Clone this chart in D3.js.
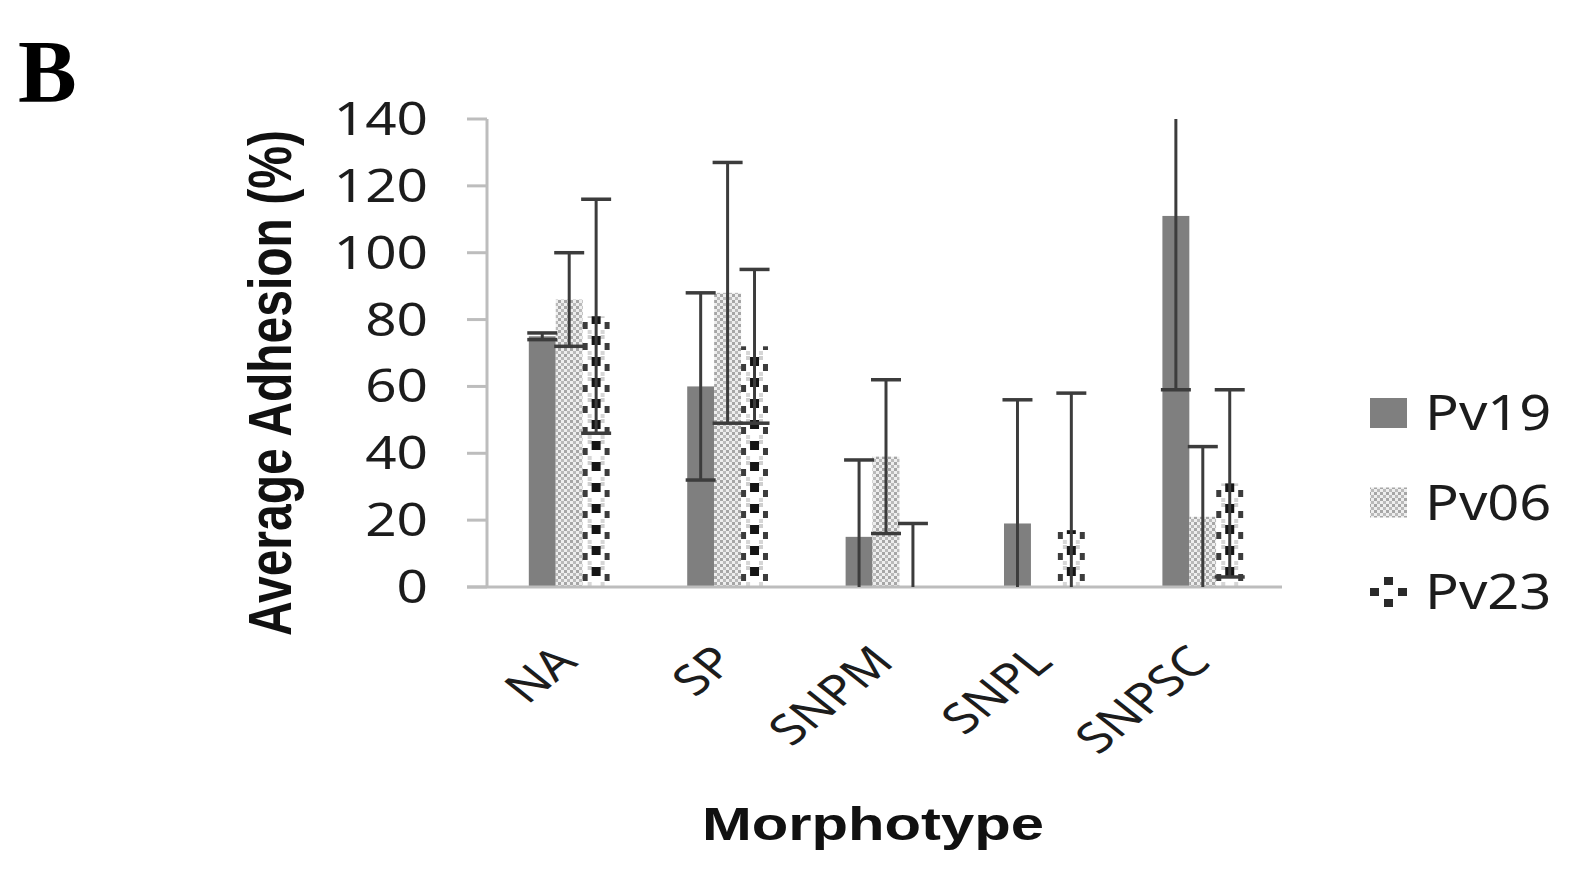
<!DOCTYPE html>
<html>
<head>
<meta charset="utf-8">
<script src="https://cdn.jsdelivr.net/npm/d3@7"></script>
<style>
  body { margin: 0; background: #fff; }
  svg { display: block; }
</style>
</head>
<body>
<div id="chart"></div>
<script>
// chart values
var categories = ["NA", "SP", "SNPM", "SNPL", "SNPSC"];
var seriesNames = ["Pv19", "Pv06", "Pv23"];
var pv19 = [75, 60, 15, 19, 111];
var pv06 = [86, 88, 39, 0, 21];
var pv23 = [81, 72, 0, 17, 31];
var pv19Err = [1, 28, 23, 37, 52];
var pv06Err = [14, 39, 23, 0, 21];
var pv23Err = [35, 23, 19, 41, 28];
var yTicks = [0, 20, 40, 60, 80, 100, 120, 140];

var width = 1582;
var height = 877;
var axisColor = "#bdbdbd";
var errColor = "#3c3c3c";
var fontFam = "'Noto Sans', 'Open Sans', sans-serif";

var svg = d3.select("#chart").append("svg")
	.attr("width", width)
	.attr("height", height);

var defs = svg.append("defs");

var y = d3.scaleLinear()
	.domain([0, 140])
	.range([587, 119]);

var x0 = d3.scaleBand()
	.domain(categories)
	.range([490, 1282]);

var x1 = d3.scaleBand()
	.domain(seriesNames)
	.range([x0.bandwidth() * 0.245, x0.bandwidth() * 0.755]);

// light speckle for Pv06
var p06 = defs.append("pattern")
	.attr("id", "pv06")
	.attr("patternUnits", "userSpaceOnUse")
	.attr("width", 6)
	.attr("height", 6);
p06.append("rect").attr("width", 6).attr("height", 6).attr("fill", "#eeeeee");
p06.append("rect").attr("x", 0).attr("y", 0).attr("width", 3).attr("height", 3).attr("fill", "#a6a6a6");
p06.append("rect").attr("x", 3).attr("y", 3).attr("width", 3).attr("height", 3).attr("fill", "#bababa");

// blocky pattern for Pv23, one per bar so it lines up with the bar edges
function makePv23Pattern(id, px, py, w)
{
	var pat = defs.append("pattern")
		.attr("id", id)
		.attr("patternUnits", "userSpaceOnUse")
		.attr("x", px)
		.attr("y", py)
		.attr("width", w)
		.attr("height", 21);
	pat.append("rect").attr("width", w).attr("height", 21).attr("fill", "#ffffff");
	pat.append("rect").attr("x", 5).attr("y", 0).attr("width", 4).attr("height", 4).attr("fill", "#cfcfcf");
	pat.append("rect").attr("x", w - 9).attr("y", 0).attr("width", 4).attr("height", 4).attr("fill", "#cfcfcf");
	pat.append("rect").attr("x", w / 2 - 4.5).attr("y", 1).attr("width", 9).attr("height", 9).attr("fill", "#151515");
	pat.append("rect").attr("x", 0).attr("y", 8).attr("width", 5).attr("height", 7).attr("fill", "#3c3c3c");
	pat.append("rect").attr("x", w - 5).attr("y", 8).attr("width", 5).attr("height", 7).attr("fill", "#3c3c3c");
	pat.append("rect").attr("x", 5).attr("y", 16).attr("width", 4).attr("height", 4).attr("fill", "#d6d6d6");
	pat.append("rect").attr("x", w - 9).attr("y", 16).attr("width", 4).attr("height", 4).attr("fill", "#d6d6d6");
}

categories.forEach(function(c, i)
{
	makePv23Pattern("pv23_" + i, x0(c) + x1("Pv23"), y(0), x1.bandwidth());
});

var values = [pv19, pv06, pv23];
var errs = [pv19Err, pv06Err, pv23Err];

function fillFor(s, i)
{
	if(s == 0) { return "#7f7f7f"; }
	if(s == 1) { return "url(#pv06)"; }
	return "url(#pv23_" + i + ")";
}

// bars
var bars = [];
seriesNames.forEach(function(name, s)
{
	categories.forEach(function(c, i)
	{
		bars.push({ s: s, name: name, cat: c, i: i, v: values[s][i], e: errs[s][i] });
	});
});

svg.append("g").selectAll("rect")
	.data(bars.filter(function(d) { return d.v > 0; }))
	.join("rect")
	.attr("x", function(d) { return x0(d.cat) + x1(d.name); })
	.attr("y", function(d) { return y(d.v); })
	.attr("width", x1.bandwidth())
	.attr("height", function(d) { return y(0) - y(d.v); })
	.attr("fill", function(d) { return fillFor(d.s, d.i); });

// axes
var yAxis = svg.append("g");
yAxis.append("line")
	.attr("x1", 487).attr("x2", 487)
	.attr("y1", y(140)).attr("y2", y(0))
	.attr("stroke", axisColor).attr("stroke-width", 3);

yAxis.selectAll(".tick")
	.data(yTicks)
	.join("line")
	.attr("x1", 467).attr("x2", 487)
	.attr("y1", function(d) { return y(d); })
	.attr("y2", function(d) { return y(d); })
	.attr("stroke", axisColor).attr("stroke-width", 3);

yAxis.selectAll("text")
	.data(yTicks)
	.join("text")
	.attr("transform", function(d) { return "translate(428," + (y(d) + 16) + ") scale(1.22,1)"; })
	.attr("text-anchor", "end")
	.attr("font-family", fontFam)
	.attr("font-size", 45)
	.attr("fill", "#1c1c1c")
	.text(function(d) { return d; });

svg.append("line")
	.attr("x1", 467).attr("x2", 1282)
	.attr("y1", y(0)).attr("y2", y(0))
	.attr("stroke", axisColor).attr("stroke-width", 3);

// error bars
var errG = svg.append("g");
bars.filter(function(d) { return d.e > 0; }).forEach(function(d)
{
	var cx = x0(d.cat) + x1(d.name) + x1.bandwidth() / 2;
	var lo = Math.max(0, d.v - d.e);
	var hi = Math.min(140, d.v + d.e);
	errG.append("line")
		.attr("x1", cx).attr("x2", cx)
		.attr("y1", y(lo)).attr("y2", y(hi))
		.attr("stroke", errColor).attr("stroke-width", 3);
	if(d.v + d.e < 140)
	{
		errG.append("line")
			.attr("x1", cx - 15).attr("x2", cx + 15)
			.attr("y1", y(hi)).attr("y2", y(hi))
			.attr("stroke", errColor).attr("stroke-width", 3.5);
	}
	if(d.v - d.e > 0)
	{
		errG.append("line")
			.attr("x1", cx - 15).attr("x2", cx + 15)
			.attr("y1", y(lo)).attr("y2", y(lo))
			.attr("stroke", errColor).attr("stroke-width", 3.5);
	}
});

// category labels, slanted
svg.append("g").selectAll("text")
	.data(categories)
	.join("text")
	.attr("transform", function(d) { return "translate(" + (x0(d) + x0.bandwidth() / 2 + 10) + ",664) scale(1.25,1) rotate(-45)"; })
	.attr("text-anchor", "end")
	.attr("font-family", fontFam)
	.attr("font-size", 42)
	.attr("fill", "#1c1c1c")
	.text(function(d) { return d; });

// axis titles
svg.append("text")
	.attr("transform", "translate(291,383) rotate(-90) scale(1,1.28)")
	.attr("text-anchor", "middle")
	.attr("font-family", "'Liberation Sans', Arial, sans-serif")
	.attr("font-weight", "bold")
	.attr("font-size", 48)
	.attr("fill", "#111")
	.text("Average Adhesion (%)");

svg.append("text")
	.attr("transform", "translate(873,840) scale(1.3,1)")
	.attr("text-anchor", "middle")
	.attr("font-family", "'Liberation Sans', Arial, sans-serif")
	.attr("font-weight", "bold")
	.attr("font-size", 46)
	.attr("fill", "#111")
	.text("Morphotype");

// panel letter
svg.append("text")
	.attr("x", 18)
	.attr("y", 101)
	.attr("font-family", "'Liberation Serif', 'Times New Roman', serif")
	.attr("font-weight", "bold")
	.attr("font-size", 88)
	.attr("fill", "#000")
	.text("B");

// legend
var legY = d3.scalePoint()
	.domain(seriesNames)
	.range([413, 592]);

var lp = defs.append("pattern")
	.attr("id", "legPv23")
	.attr("patternUnits", "userSpaceOnUse")
	.attr("x", 1370).attr("y", legY("Pv23") - 15)
	.attr("width", 37).attr("height", 30);
lp.append("rect").attr("width", 37).attr("height", 30).attr("fill", "#fff");
lp.append("rect").attr("x", 14).attr("y", 0).attr("width", 9).attr("height", 8).attr("fill", "#2a2a2a");
lp.append("rect").attr("x", 0).attr("y", 11).attr("width", 9).attr("height", 8).attr("fill", "#2a2a2a");
lp.append("rect").attr("x", 28).attr("y", 11).attr("width", 9).attr("height", 8).attr("fill", "#2a2a2a");
lp.append("rect").attr("x", 14).attr("y", 22).attr("width", 9).attr("height", 8).attr("fill", "#2a2a2a");

var leg = svg.append("g");
leg.selectAll("rect")
	.data(seriesNames)
	.join("rect")
	.attr("x", 1370)
	.attr("y", function(d) { return legY(d) - 15; })
	.attr("width", 37)
	.attr("height", 30)
	.attr("fill", function(d, i) { return i == 0 ? "#7f7f7f" : (i == 1 ? "url(#pv06)" : "url(#legPv23)"); });

leg.selectAll("text")
	.data(seriesNames)
	.join("text")
	.attr("transform", function(d) { return "translate(1425," + (legY(d) + 17) + ") scale(1.12,1)"; })
	.attr("font-family", fontFam)
	.attr("font-size", 50)
	.attr("fill", "#1c1c1c")
	.text(function(d) { return d; });
</script>
</body>
</html>
